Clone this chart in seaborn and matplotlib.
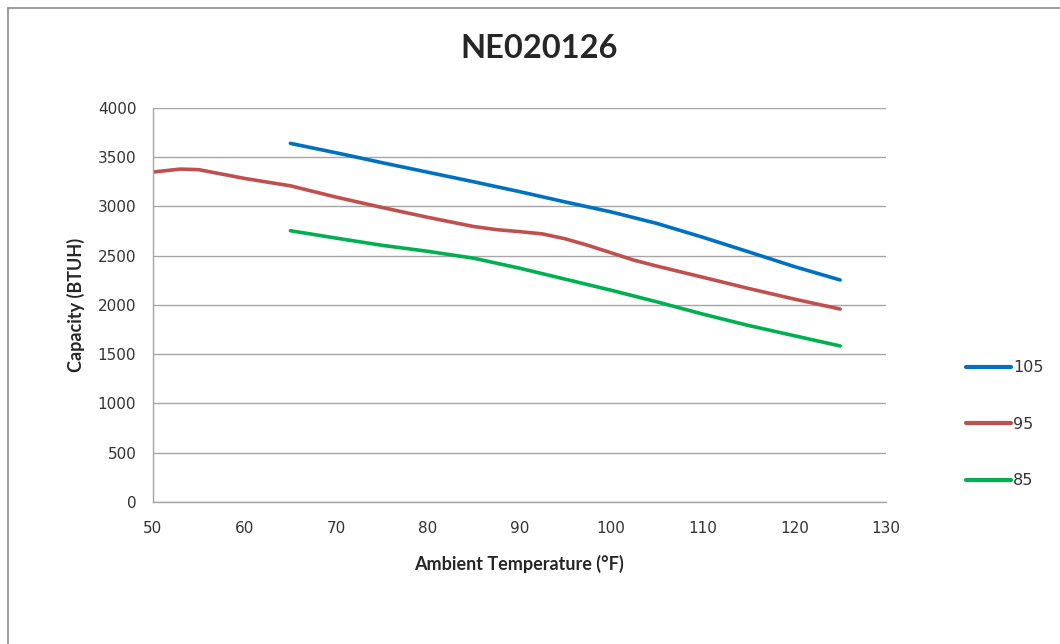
import pandas as pd
import matplotlib
matplotlib.use("Agg")
import matplotlib.pyplot as plt
from matplotlib.lines import Line2D
import seaborn as sns

# values (capacity in BTUH)
temps_105 = [65, 70, 75, 80, 85, 90, 95, 100, 105, 110, 115, 120, 125]
cap_105 = [3641, 3545, 3445, 3348, 3251, 3151, 3046, 2945, 2828, 2688, 2540, 2390, 2254]

temps_95 = [50, 53, 55, 60, 65, 70, 75, 80, 85, 87.5, 90, 92.5, 95, 97.5, 100, 102.5,
            105, 110, 115, 120, 125]
cap_95 = [3350, 3380, 3374, 3285, 3210, 3095, 2990, 2890, 2797, 2765, 2745, 2722, 2672,
          2605, 2530, 2455, 2395, 2282, 2168, 2060, 1959]

temps_85 = [65, 70, 75, 80, 85, 90, 95, 100, 105, 110, 115, 120, 125]
cap_85 = [2754, 2679, 2606, 2545, 2475, 2374, 2262, 2150, 2032, 1908, 1792, 1688, 1584]

series_names = ["105", "95", "85"]
series_colors = ["#0070C0", "#C0504D", "#00B050"]

df = pd.concat([
    pd.DataFrame({"temp": temps_105, "cap": cap_105, "series": "105"}),
    pd.DataFrame({"temp": temps_95, "cap": cap_95, "series": "95"}),
    pd.DataFrame({"temp": temps_85, "cap": cap_85, "series": "85"}),
])

sns.set_style("white")
plt.rcParams['font.family'] = ['Lato', 'DejaVu Sans']

fig = plt.figure(figsize=(10.6, 6.44), dpi=100)
ax = fig.add_axes([0.1443, 0.2205, 0.6915, 0.6118])

sns.lineplot(data=df, x="temp", y="cap", hue="series", hue_order=series_names,
             palette=series_colors, linewidth=2.6, ax=ax, legend=False,
             sort=False, estimator=None)

ax.set_xlim(50, 130)
ax.set_ylim(0, 4000)
ax.set_xticks(range(50, 131, 10))
ax.set_yticks(range(0, 4001, 500))
ax.yaxis.grid(True, color="#A6A6A6", linewidth=1.0)
ax.set_axisbelow(True)
for s in ["top", "right"]:
    ax.spines[s].set_visible(False)
for s in ["left", "bottom"]:
    ax.spines[s].set_color("#A6A6A6")
    ax.spines[s].set_linewidth(1.0)
ax.tick_params(axis="both", direction="out", length=5, width=1, color="#A6A6A6",
               labelsize=11, labelcolor="#333333")
ax.tick_params(axis="y", pad=7)
ax.tick_params(axis="x", pad=9)
for lab in ax.get_xticklabels() + ax.get_yticklabels():
    lab.set_family("DejaVu Sans")

ax.set_xlabel("Ambient Temperature (°F)", fontsize=13, fontweight="bold", labelpad=13)
ax.set_ylabel("Capacity (BTUH)", fontsize=13, fontweight="bold", labelpad=9)
fig.text(0.509, 0.925, "NE020126", ha="center", va="center", fontsize=23.5, fontweight="bold")

handles = [Line2D([0], [0], color=c, linewidth=3) for c in series_colors]
fig.legend(handles, series_names, loc="center left", bbox_to_anchor=(0.898, 0.341),
           frameon=False, handlelength=2.8, handletextpad=0.15,
           labelspacing=2.6, labelcolor="#333333",
           prop={"family": "DejaVu Sans", "size": 11.5})

# chart border (top and left edges visible in the reference)
fig.add_artist(Line2D([8/1060, 1.0], [1 - 8/644, 1 - 8/644], transform=fig.transFigure,
                      color="#8C8C8C", linewidth=1.2))
fig.add_artist(Line2D([8/1060, 8/1060], [0.0, 1 - 8/644], transform=fig.transFigure,
                      color="#8C8C8C", linewidth=1.2))

fig.savefig("out.png", dpi=100)
